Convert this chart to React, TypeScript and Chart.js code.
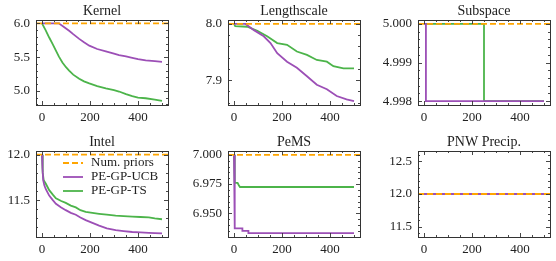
import React, { useEffect, useRef } from "react";
import { Chart, registerables } from "chart.js";

Chart.register(...registerables);

// ---------- data ----------
const X_MIN = -25;
const X_MAX = 525;
const xTicks = [0, 200, 400];

// Kernel
const kernelPrior = 6.0;
const kernelUcbX = [0, 70, 90, 113, 130, 155, 175, 197, 230, 266, 300, 321, 350, 376, 400, 432, 470, 500];
const kernelUcbY = [6.0, 6.0, 5.95, 5.89, 5.84, 5.77, 5.72, 5.67, 5.62, 5.585, 5.55, 5.53, 5.51, 5.49, 5.47, 5.45, 5.44, 5.43];
const kernelTsX = [0, 15, 30, 45, 58, 70, 85, 100, 113, 130, 155, 175, 197, 230, 266, 300, 321, 350, 376, 400, 432, 470, 500];
const kernelTsY = [6.0, 5.9, 5.79, 5.69, 5.595, 5.51, 5.42, 5.35, 5.3, 5.24, 5.18, 5.14, 5.11, 5.07, 5.035, 5.01, 4.99, 4.95, 4.92, 4.9, 4.89, 4.87, 4.85];
const kernelYTicks = [5.0, 5.5, 6.0];

// Lengthscale
const lenPrior = 8.0;
const lenUcbX = [0, 48, 83, 124, 152, 180, 221, 262, 304, 345, 387, 428, 469, 500];
const lenUcbY = [8.0, 8.0, 7.989, 7.978, 7.966, 7.948, 7.933, 7.922, 7.907, 7.892, 7.884, 7.872, 7.866, 7.863];
const lenTsX = [0, 5, 55, 97, 138, 180, 221, 262, 304, 345, 387, 414, 456, 500];
const lenTsY = [8.0, 7.996, 7.995, 7.988, 7.978, 7.966, 7.963, 7.951, 7.945, 7.936, 7.933, 7.925, 7.921, 7.921];
const lenYTicks = [7.9, 8.0];

// Subspace
const subPrior = 5.0;
const subUcbX = [0, 8, 8, 500];
const subUcbY = [5.0, 5.0, 4.998, 4.998];
const subTsX = [0, 250, 250, 500];
const subTsY = [5.0, 5.0, 4.998, 4.998];
const subYTicks = [4.998, 4.999, 5.0];

// Intel
const intelPrior = 12.0;
const intelUcbX = [0, 2, 5, 10, 16, 30, 45, 58, 80, 99, 120, 141, 160, 182, 210, 238, 270, 307, 340, 376, 410, 445, 470, 500];
const intelUcbY = [12.0, 11.85, 11.72, 11.66, 11.62, 11.55, 11.5, 11.46, 11.42, 11.39, 11.36, 11.34, 11.31, 11.28, 11.25, 11.22, 11.19, 11.17, 11.16, 11.15, 11.145, 11.14, 11.137, 11.135];
const intelTsX = [0, 3, 7, 16, 30, 45, 58, 80, 99, 120, 141, 160, 182, 210, 238, 270, 307, 340, 376, 410, 445, 470, 500];
const intelTsY = [12.0, 11.8, 11.72, 11.68, 11.61, 11.56, 11.52, 11.49, 11.47, 11.44, 11.42, 11.39, 11.37, 11.36, 11.35, 11.34, 11.33, 11.325, 11.32, 11.315, 11.31, 11.3, 11.29];
const intelYTicks = [11.5, 12.0];

// PeMS
const pemsPrior = 7.0;
const pemsUcbX = [0, 3, 35, 35, 60, 60, 500];
const pemsUcbY = [7.0, 6.937, 6.937, 6.935, 6.935, 6.933, 6.933];
const pemsTsX = [0, 3, 15, 20, 25, 500];
const pemsTsY = [7.0, 6.976, 6.976, 6.974, 6.9725, 6.9725];
const pemsYTicks = [6.95, 6.975, 7.0];

// PNW Precip.
const pnwPrior = 12.0;
const pnwUcbX = [0, 500];
const pnwUcbY = [12.0, 12.0];
const pnwTsX = [0, 500];
const pnwTsY = [12.0, 12.0];
const pnwYTicks = [11.5, 12.0, 12.5];

const legendLabels = ["Num. priors", "PE-GP-UCB", "PE-GP-TS"];

// ---------- style ----------
const ORANGE = "#ffa500";
const PURPLE = "#9c4fb6";
const GREEN = "#4cb44a";
const TEXT = "#222222";
const FONT_FAMILY = "'Liberation Serif', 'DejaVu Serif', serif";
const TICK_FONT = 13;
const TITLE_FONT = 14;
const TH = 22;
const XH = 24;
const RP = 4;

type PanelProps = {
  title: string;
  left: number;
  top: number;
  w: number;
  h: number;
  yw: number;
  ymin: number;
  ymax: number;
  yticks: number[];
  ydec: number;
  prior: number;
  ucbX: number[];
  ucbY: number[];
  tsX: number[];
  tsY: number[];
  legend?: boolean;
};

function Panel(p: PanelProps) {
  const ref = useRef<HTMLCanvasElement>(null);
  const cw = p.yw + p.w + RP;
  const chh = TH + p.h + XH;

  useEffect(() => {
    if (!ref.current) return;
    const toPts = (xs: number[], ys: number[]) => xs.map((x, i) => ({ x, y: ys[i] }));

    const frame = {
      id: "frame",
      afterDraw(chart: any) {
        const ctx = chart.ctx as CanvasRenderingContext2D;
        const a = chart.chartArea;
        const xs = chart.scales.x;
        const ys = chart.scales.y;
        ctx.save();
        ctx.strokeStyle = "#333333";
        ctx.lineWidth = 0.9;
        // ticks
        const drawX = (v: number, len: number) => {
          const px = Math.round(xs.getPixelForValue(v)) + 0.5;
          ctx.beginPath();
          ctx.moveTo(px, a.bottom);
          ctx.lineTo(px, a.bottom - len);
          ctx.moveTo(px, a.top);
          ctx.lineTo(px, a.top + len);
          ctx.stroke();
        };
        const drawY = (v: number, len: number) => {
          const py = Math.round(ys.getPixelForValue(v)) + 0.5;
          ctx.beginPath();
          ctx.moveTo(a.left, py);
          ctx.lineTo(a.left + len, py);
          ctx.moveTo(a.right, py);
          ctx.lineTo(a.right - len, py);
          ctx.stroke();
        };
        xTicks.forEach((v) => drawX(v, 4));
        const xStep = (xTicks[1] - xTicks[0]) / 4;
        for (let k = -20; k <= 40; k++) {
          const v = xTicks[0] + k * xStep;
          if (v <= X_MIN || v >= X_MAX) continue;
          if (xTicks.some((t) => Math.abs(t - v) < 1e-9)) continue;
          drawX(v, 2);
        }
        p.yticks.forEach((v) => drawY(v, 4));
        const yStep = (p.yticks[1] - p.yticks[0]) / 5;
        for (let k = -60; k <= 60; k++) {
          const v = p.yticks[0] + k * yStep;
          if (v <= p.ymin || v >= p.ymax) continue;
          if (p.yticks.some((t) => Math.abs(t - v) < yStep * 1e-3)) continue;
          drawY(v, 2);
        }
        // frame
        ctx.lineWidth = 1;
        ctx.strokeRect(Math.round(a.left) + 0.5, Math.round(a.top) + 0.5, Math.round(a.right - a.left), Math.round(a.bottom - a.top));
        // title
        ctx.fillStyle = TEXT;
        ctx.font = `${TITLE_FONT}px ${FONT_FAMILY}`;
        ctx.textAlign = "center";
        ctx.textBaseline = "middle";
        ctx.fillText(p.title, (a.left + a.right) / 2, a.top - 9);
        // legend
        if (p.legend) {
          const cols = [ORANGE, PURPLE, GREEN];
          ctx.font = `${TICK_FONT}px ${FONT_FAMILY}`;
          ctx.textAlign = "left";
          legendLabels.forEach((lab, i) => {
            const y = a.top + 12 + i * 14;
            ctx.strokeStyle = cols[i];
            ctx.lineWidth = 1.8;
            ctx.setLineDash(i === 0 ? [6, 3] : []);
            ctx.beginPath();
            ctx.moveTo(a.left + 27, y);
            ctx.lineTo(a.left + 47, y);
            ctx.stroke();
            ctx.setLineDash([]);
            ctx.fillStyle = TEXT;
            ctx.fillText(lab, a.left + 55, y);
          });
        }
        ctx.restore();
      },
    };

    const font = { family: FONT_FAMILY, size: TICK_FONT };
    const chart = new Chart(ref.current, {
      type: "line",
      data: {
        datasets: [
          {
            data: [
              { x: X_MIN, y: p.prior },
              { x: X_MAX, y: p.prior },
            ],
            borderColor: ORANGE,
            borderWidth: 1.8,
            borderDash: [6, 3],
            pointRadius: 0,
            order: 0,
          },
          {
            data: toPts(p.ucbX, p.ucbY),
            borderColor: PURPLE,
            borderWidth: 1.8,
            pointRadius: 0,
            order: 1,
          },
          {
            data: toPts(p.tsX, p.tsY),
            borderColor: GREEN,
            borderWidth: 1.8,
            pointRadius: 0,
            order: 2,
          },
        ],
      },
      options: {
        animation: false,
        responsive: false,
        maintainAspectRatio: false,
        parsing: false,
        layout: { padding: { top: TH, right: RP, left: 0, bottom: 0 } },
        plugins: { legend: { display: false }, tooltip: { enabled: false }, title: { display: false } },
        scales: {
          x: {
            type: "linear",
            min: X_MIN,
            max: X_MAX,
            grid: { display: false, drawTicks: false },
            border: { display: false },
            afterBuildTicks: (s: any) => {
              s.ticks = xTicks.map((v) => ({ value: v }));
            },
            afterFit: (s: any) => {
              s.height = XH;
            },
            ticks: {
              autoSkip: false,
              maxRotation: 0,
              padding: 5,
              color: TEXT,
              font,
              callback: (v: any) => String(v),
            },
          },
          y: {
            type: "linear",
            min: p.ymin,
            max: p.ymax,
            grid: { display: false, drawTicks: false },
            border: { display: false },
            afterBuildTicks: (s: any) => {
              s.ticks = p.yticks.map((v) => ({ value: v }));
            },
            afterFit: (s: any) => {
              s.width = p.yw;
            },
            ticks: {
              autoSkip: false,
              padding: 6,
              color: TEXT,
              font,
              callback: (v: any) => Number(v).toFixed(p.ydec),
            },
          },
        },
      } as any,
      plugins: [frame],
    });
    return () => chart.destroy();
  }, []);

  return (
    <canvas
      ref={ref}
      width={cw}
      height={chh}
      style={{ position: "absolute", left: p.left - p.yw, top: p.top - TH, width: cw, height: chh }}
    />
  );
}

export default function App() {
  const W = 132;
  return (
    <div style={{ position: "fixed", left: 0, top: 0, width: 556, height: 261, background: "#fff", overflow: "hidden" }}>
      <Panel title="Kernel" left={36} top={20} w={W} h={85} yw={36} ymin={4.79} ymax={6.05} yticks={kernelYTicks} ydec={1}
        prior={kernelPrior} ucbX={kernelUcbX} ucbY={kernelUcbY} tsX={kernelTsX} tsY={kernelTsY} />
      <Panel title="Lengthscale" left={228} top={20} w={W} h={85} yw={46} ymin={7.856} ymax={8.007} yticks={lenYTicks} ydec={1}
        prior={lenPrior} ucbX={lenUcbX} ucbY={lenUcbY} tsX={lenTsX} tsY={lenTsY} />
      <Panel title="Subspace" left={418} top={20} w={W} h={85} yw={46} ymin={4.9979} ymax={5.0001} yticks={subYTicks} ydec={3}
        prior={subPrior} ucbX={subUcbX} ucbY={subUcbY} tsX={subTsX} tsY={subTsY} />
      <Panel title="Intel" left={36} top={151} w={W} h={86} yw={36} ymin={11.095} ymax={12.04} yticks={intelYTicks} ydec={1}
        prior={intelPrior} ucbX={intelUcbX} ucbY={intelUcbY} tsX={intelTsX} tsY={intelTsY} legend />
      <Panel title="PeMS" left={228} top={151} w={W} h={86} yw={46} ymin={6.9297} ymax={7.0033} yticks={pemsYTicks} ydec={3}
        prior={pemsPrior} ucbX={pemsUcbX} ucbY={pemsUcbY} tsX={pemsTsX} tsY={pemsTsY} />
      <Panel title="PNW Precip." left={418} top={151} w={W} h={86} yw={46} ymin={11.34} ymax={12.66} yticks={pnwYTicks} ydec={1}
        prior={pnwPrior} ucbX={pnwUcbX} ucbY={pnwUcbY} tsX={pnwTsX} tsY={pnwTsY} />
    </div>
  );
}
